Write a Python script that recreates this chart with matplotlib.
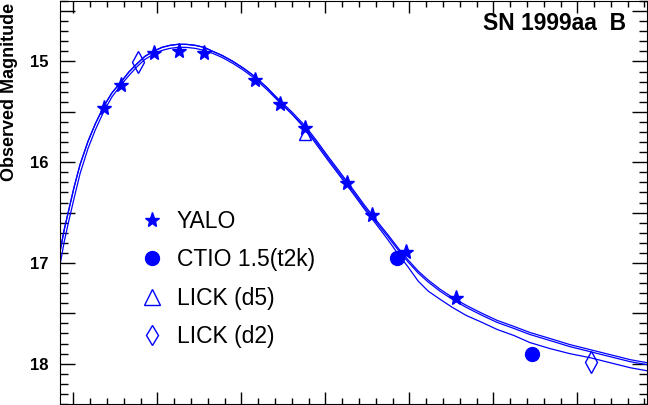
import matplotlib
matplotlib.use("Agg")
import matplotlib.pyplot as plt
from matplotlib.lines import Line2D
from matplotlib.ticker import MultipleLocator, FuncFormatter

plt.rcParams["font.family"] = ["Liberation Sans", "DejaVu Sans"]
plt.rcParams["font.weight"] = "bold"

# --- photometry (days from B max, observed B magnitude) ---
yalo_day = [-6.35, -4.32, -0.39, 2.58, 5.56, 11.63, 14.61, 17.58, 22.58, 25.56, 29.61, 35.56]
yalo_mag = [15.46, 15.23, 14.92, 14.90, 14.92, 15.18, 15.42, 15.66, 16.21, 16.52, 16.89, 17.35]

ctio_day = [28.5, 44.6]
ctio_mag = [16.95, 17.90]

lick_d5_day = [17.6]
lick_d5_mag = [15.72]

lick_d2_day = [-2.33, 51.63]
lick_d2_mag = [15.01, 17.98]

# --- template fits ---
fit_day = [-11.6, -11.1, -10.6, -9.9, -9.2, -8.25, -7.4, -6.35, -5.4, -4.3,
           -3.4, -2.4, -1.5, -0.5, 0.55, 1.5, 2.45, 3.4, 4.5, 5.55,
           6.6, 7.7, 9.0, 10.3, 11.6, 13.05, 14.6, 16.0, 17.6, 18.9,
           20.3, 21.75, 23.2, 24.6, 26.0, 27.45, 28.65, 29.85, 31.05, 32.25,
           33.65, 35.1, 36.75, 38.65, 40.45, 42.45, 44.35, 46.75, 49.1, 51.5,
           53.9, 56.3, 58.3]
fit_a = [16.89, 16.67, 16.49, 16.24, 16.02, 15.79, 15.62, 15.44, 15.31, 15.20,
         15.105, 15.02, 14.95, 14.90, 14.86, 14.84, 14.83, 14.83, 14.84, 14.86,
         14.90, 14.94, 15.00, 15.07, 15.15, 15.26, 15.39, 15.50, 15.64, 15.78,
         15.94, 16.10, 16.26, 16.42, 16.57, 16.72, 16.85, 16.97, 17.08, 17.17,
         17.26, 17.34, 17.42, 17.50, 17.57, 17.63, 17.69, 17.75, 17.81, 17.86,
         17.91, 17.96, 17.99]
fit_b = [17.02, 16.79, 16.60, 16.35, 16.11, 15.86, 15.68, 15.49, 15.35, 15.23,
         15.14, 15.05, 14.98, 14.93, 14.89, 14.87, 14.86, 14.86, 14.87, 14.89,
         14.92, 14.96, 15.02, 15.09, 15.17, 15.28, 15.41, 15.52, 15.66, 15.80,
         15.96, 16.12, 16.28, 16.44, 16.59, 16.74, 16.87, 16.99, 17.10, 17.19,
         17.28, 17.36, 17.44, 17.52, 17.59, 17.65, 17.71, 17.77, 17.83, 17.88,
         17.93, 17.98, 18.01]
fit_c = [16.89, 16.67, 16.49, 16.24, 16.02, 15.79, 15.62, 15.44, 15.31, 15.20,
         15.105, 15.02, 14.95, 14.90, 14.86, 14.84, 14.83, 14.83, 14.84, 14.86,
         14.90, 14.94, 15.00, 15.07, 15.15, 15.26, 15.40, 15.52, 15.67, 15.82,
         15.98, 16.14, 16.30, 16.46, 16.61, 16.77, 16.91, 17.04, 17.18, 17.28,
         17.36, 17.44, 17.52, 17.59, 17.66, 17.72, 17.79, 17.85, 17.90, 17.94,
         17.99, 18.04, 18.07]

BLUE = "#0000ff"

fig = plt.figure(figsize=(6.48, 4.05), dpi=100)
ax = fig.add_axes([60 / 648, 1 / 405, 587 / 648, 403 / 405])

for mags in (fit_a, fit_b, fit_c):
    ax.plot(fit_day, mags, color=BLUE, lw=0.9)

ax.plot(yalo_day, yalo_mag, ls="none", marker="*", ms=11, color=BLUE)
ax.plot(ctio_day, ctio_mag, ls="none", marker="o", ms=10, color=BLUE)
ax.plot(lick_d5_day, lick_d5_mag, ls="none", marker="^", ms=9, mfc="none", mec=BLUE, mew=1)
ax.plot(lick_d2_day, lick_d2_mag, ls="none", marker="d", ms=11, mfc="none", mec=BLUE, mew=1)

ax.set_xlim(-11.6, 58.3)
ax.set_ylim(18.4, 14.4)
ax.xaxis.set_major_locator(MultipleLocator(10))
ax.xaxis.set_minor_locator(MultipleLocator(2))
ax.yaxis.set_major_locator(MultipleLocator(0.5))
ax.yaxis.set_minor_locator(MultipleLocator(0.1))
ax.yaxis.set_major_formatter(
    FuncFormatter(lambda v, p: f"{v:.0f}" if abs(v - round(v)) < 1e-6 else ""))
ax.tick_params(which="both", direction="in", top=True, right=True,
               labelbottom=False, width=1)
ax.tick_params(axis="x", which="major", length=8.6)
ax.tick_params(axis="x", which="minor", length=4.3)
ax.tick_params(axis="y", which="major", length=10.8, labelsize=12, pad=8)
ax.tick_params(axis="y", which="minor", length=5.8)

handles = [
    Line2D([], [], ls="none", marker="*", ms=11, color=BLUE, label="YALO"),
    Line2D([], [], ls="none", marker="o", ms=10, color=BLUE, label="CTIO 1.5(t2k)"),
    Line2D([], [], ls="none", marker="^", ms=11.5, mfc="none", mec=BLUE, mew=1, label="LICK (d5)"),
    Line2D([], [], ls="none", marker="d", ms=10, mfc="none", mec=BLUE, mew=1, label="LICK (d2)"),
]
ax.legend(handles=handles, loc="center left",
          bbox_to_anchor=((140.5 - 60) / 587, (404 - 279) / 403),
          frameon=False, prop={"size": 16.5, "weight": "normal"},
          handlelength=1.0, handletextpad=0.59, labelspacing=0.68,
          borderpad=0, borderaxespad=0)

ax.text(0.964, 0.945, "SN 1999aa  B", transform=ax.transAxes,
        ha="right", va="center", fontsize=16.5, fontweight="bold")
fig.text(10 / 648, 1 - 92 / 405, "Observed Magnitude", rotation=90,
         ha="center", va="center", fontsize=13, fontweight="bold")

fig.savefig("out.png", dpi=100)
